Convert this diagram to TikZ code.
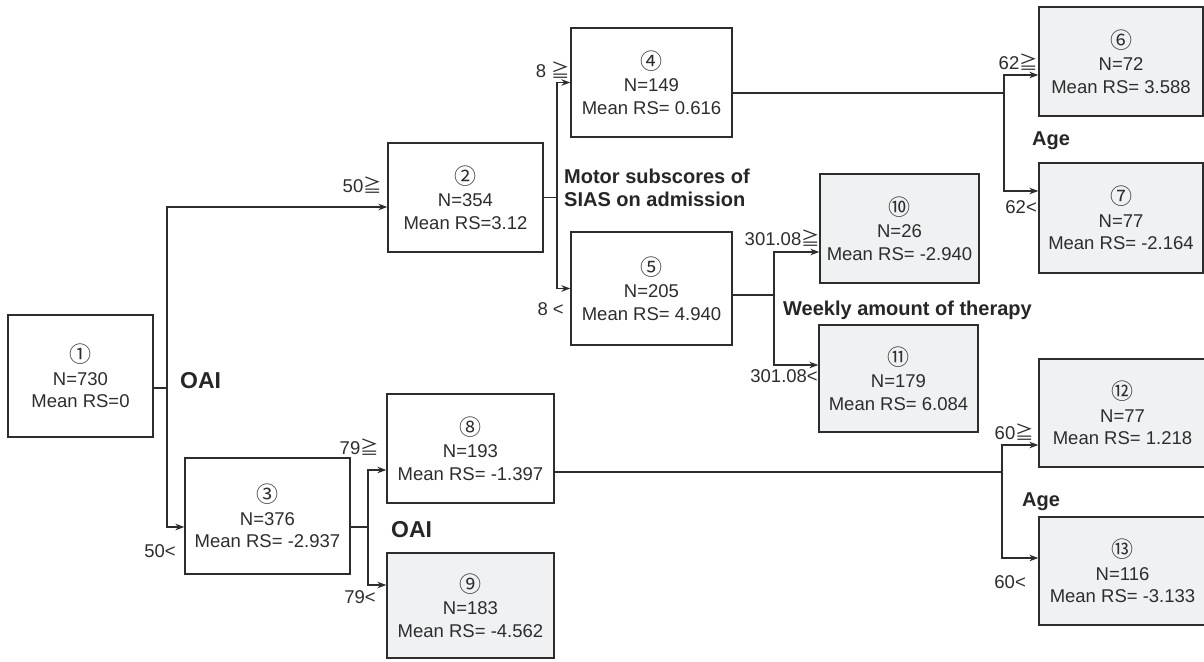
\documentclass[tikz,border=0pt]{standalone}
\usepackage{fontspec}
\setmainfont{Liberation Sans}
\newfontfamily\cjk{Noto Sans CJK JP}
\usetikzlibrary{arrows.meta}
\definecolor{ln}{RGB}{45,45,45}
\definecolor{leaf}{RGB}{239,241,243}
\newcommand\cn[1]{{\cjk\fontsize{22}{22}\selectfont #1}}
\newcommand\gesym{{\cjk ≧}}
\tikzset{
 box/.style={draw=ln, line width=1.3pt, rectangle, align=center, inner sep=0pt, text=ln, font=\fontsize{18.5}{22.5}\selectfont},
 leafbox/.style={box, fill=leaf},
 conn/.style={draw=ln, line width=1.3pt},
 arr/.style={conn, -{Stealth[length=9pt,width=6.5pt]}},
 lab/.style={font=\fontsize{18.5}{20}\selectfont, inner sep=0pt, text=ln},
 var/.style={font=\bfseries\fontsize{20}{23}\selectfont, inner sep=0pt, align=left, text=black!85},
}
\begin{document}
\begin{tikzpicture}[x=1pt,y=-1pt]
\useasboundingbox[fill=white] (0,0) rectangle (1204,661);
% boxes
\node[box, minimum width=145pt, minimum height=122pt] (n1) at (80.5,376) {\cn{①}\\N=730\\Mean RS=0};
\node[box, minimum width=155pt, minimum height=109pt] (n2) at (465.5,197.5) {\cn{②}\\N=354\\Mean RS=3.12};
\node[box, minimum width=165pt, minimum height=116pt] (n3) at (267.5,516) {\cn{③}\\N=376\\Mean RS= -2.937};
\node[box, minimum width=161pt, minimum height=109pt] (n4) at (651.5,82.5) {\cn{④}\\N=149\\Mean RS= 0.616};
\node[box, minimum width=161pt, minimum height=113pt] (n5) at (651.5,288.5) {\cn{⑤}\\N=205\\Mean RS= 4.940};
\node[leafbox, minimum width=164pt, minimum height=109pt] (n6) at (1121,61.5) {\cn{⑥}\\N=72\\Mean RS= 3.588};
\node[leafbox, minimum width=164pt, minimum height=110pt] (n7) at (1121,218) {\cn{⑦}\\N=77\\Mean RS= -2.164};
\node[box, minimum width=167pt, minimum height=109pt] (n8) at (470.5,448.5) {\cn{⑧}\\N=193\\Mean RS= -1.397};
\node[leafbox, minimum width=167pt, minimum height=105pt] (n9) at (470.5,605.5) {\cn{⑨}\\N=183\\Mean RS= -4.562};
\node[leafbox, minimum width=159pt, minimum height=109pt] (n10) at (899.5,228.5) {\cn{⑩}\\N=26\\Mean RS= -2.940};
\node[leafbox, minimum width=159pt, minimum height=107pt] (n11) at (898.5,378.5) {\cn{⑪}\\N=179\\Mean RS= 6.084};
\node[leafbox, minimum width=167pt, minimum height=108pt] (n12) at (1122.5,413) {\cn{⑫}\\N=77\\Mean RS= 1.218};
\node[leafbox, minimum width=167pt, minimum height=108pt] (n13) at (1122.5,571) {\cn{⑬}\\N=116\\Mean RS= -3.133};
% connectors
\coordinate (t1) at (167,388);
\draw[conn] ([yshift=-12pt]n1.east) -- (t1);
\draw[arr] (t1) |- ([yshift=-9.5pt]n2.west);
\draw[arr] (t1) |- ([yshift=-11pt]n3.west);
\coordinate (t2) at (557,197.5);
\draw[conn] (n2.east) -- (t2);
\draw[arr] (t2) |- (n4.west);
\draw[arr] (t2) |- (n5.west);
\coordinate (t4) at (1004,93);
\draw[conn] ([yshift=-10.5pt]n4.east) -- (t4);
\draw[arr] (t4) |- ([yshift=-13.5pt]n6.west);
\draw[arr] (t4) |- ([yshift=27pt]n7.west);
\coordinate (t5) at (774,295);
\draw[conn] ([yshift=-6.5pt]n5.east) -- (t5);
\draw[arr] (t5) |- ([yshift=-23.5pt]n10.west);
\draw[arr] (t5) |- ([yshift=13.5pt]n11.west);
\coordinate (t3) at (368,527);
\draw[conn] ([yshift=-11pt]n3.east) -- (t3);
\draw[arr] (t3) |- ([yshift=-21.5pt]n8.west);
\draw[arr] (t3) |- ([yshift=20.5pt]n9.west);
\coordinate (t8) at (1002,472);
\draw[conn] ([yshift=-23.5pt]n8.east) -- (t8);
\draw[arr] (t8) |- ([yshift=-32pt]n12.west);
\draw[arr] (t8) |- ([yshift=13pt]n13.west);
% threshold labels
\node[lab, anchor=east] (l1) at (382,185) {50\gesym};
\node[lab, anchor=east] (l2) at (176,551) {50<};
\node[lab, anchor=east] (l3) at (379,447) {79\gesym};
\node[lab, anchor=east] (l4) at (376,597) {79<};
\node[lab, anchor=east] (l5) at (570,70) {8 \gesym};
\node[lab, anchor=east] (l6) at (564,309) {8 <};
\node[lab, anchor=east] (l7) at (820,238) {301.08\gesym};
\node[lab, anchor=east] (l8) at (818,376) {301.08<};
\node[lab, anchor=east] (l9) at (1038,62) {62\gesym};
\node[lab, anchor=east] (l10) at (1037,207) {62<};
\node[lab, anchor=east] (l11) at (1034,432) {60\gesym};
\node[lab, anchor=east] (l12) at (1026,582) {60<};
% variable labels
\node[var, anchor=west, font=\bfseries\fontsize{23}{24}\selectfont] (v1) at (180,381) {OAI};
\node[var, anchor=west, font=\bfseries\fontsize{23}{24}\selectfont] (v2) at (391,530) {OAI};
\node[var, anchor=west] (v3) at (564,187.5) {Motor subscores of\\SIAS on admission};
\node[var, anchor=west] (v4) at (783,310) {Weekly amount of therapy};
\node[var, anchor=west] (v5) at (1032,141) {Age};
\node[var, anchor=west] (v6) at (1022,502) {Age};
\end{tikzpicture}
\end{document}
